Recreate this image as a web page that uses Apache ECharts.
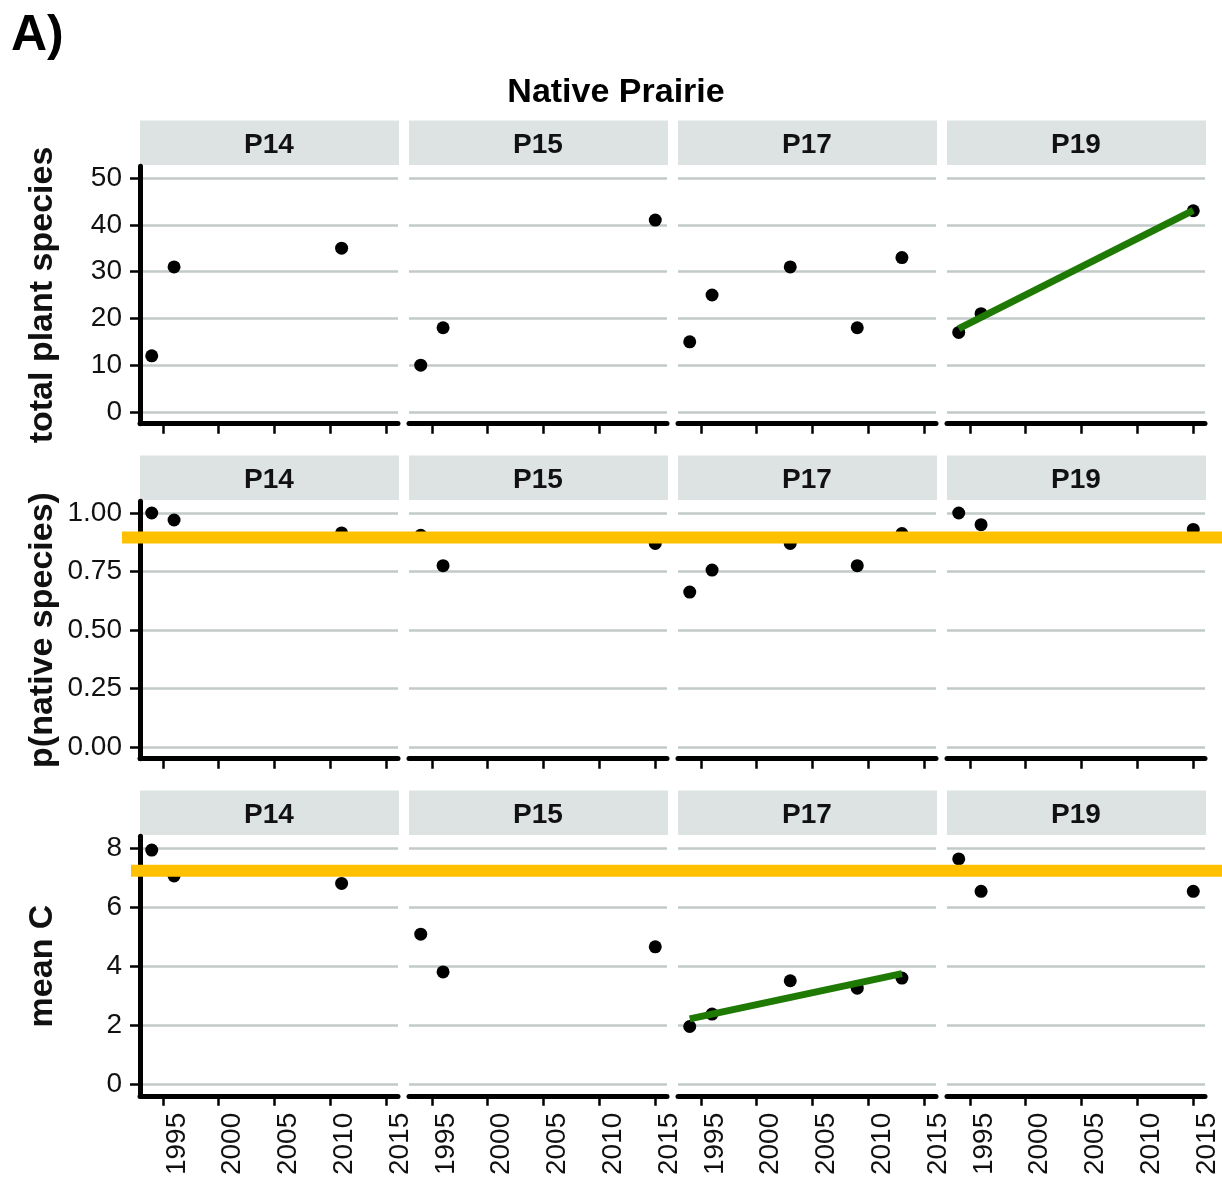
<!DOCTYPE html>
<html><head><meta charset="utf-8">
<script src="https://cdn.jsdelivr.net/npm/echarts@6/dist/echarts.min.js"></script>
<style>html,body{margin:0;padding:0;background:#fff}#c{width:1222px;height:1183px}</style>
</head><body><div id="c"></div>
<script>
// ---------- data ----------
const sites = ['P14', 'P15', 'P17', 'P19'];
const yearsP14 = [1994, 1996, 2011];
const yearsP15 = [1994, 1996, 2015];
const yearsP17 = [1994, 1996, 2003, 2009, 2013];
const yearsP19 = [1994, 1996, 2015];

const totalP14 = [12, 31, 35];
const totalP15 = [10, 18, 41];
const totalP17 = [15, 25, 31, 18, 33];
const totalP19 = [17, 21, 43];

const pNativeP14 = [1.00, 0.97, 0.915];
const pNativeP15 = [0.905, 0.775, 0.87];
const pNativeP17 = [0.662, 0.756, 0.87, 0.775, 0.912];
const pNativeP19 = [1.00, 0.95, 0.93];

const meanCP14 = [7.93, 7.05, 6.8];
const meanCP15 = [5.08, 3.8, 4.65];
const meanCP17 = [1.95, 2.37, 3.5, 3.25, 3.59];
const meanCP19 = [7.63, 6.53, 6.53];

const trendTotalP19 = [[1994, 17.8], [2015, 43.1]];
const trendMeanCP17 = [[1994, 2.21], [2013, 3.74]];
const pNativeRef = 0.895;
const meanCRef = 7.23;

const yearTicks = [1995, 2000, 2005, 2010, 2015];
const totalTicks = [0, 10, 20, 30, 40, 50];
const pNativeTicks = [0, 0.25, 0.5, 0.75, 1];
const meanCTicks = [0, 2, 4, 6, 8];

// ---------- layout ----------
const FONT = "'Liberation Sans', Arial, Helvetica, sans-serif";
const colLeft = [140, 409, 678, 947];
const panelW = 258;
const years = [yearsP14, yearsP15, yearsP17, yearsP19];
const rows = [
  {title: 'total plant species', vals: [totalP14, totalP15, totalP17, totalP19], ticks: totalTicks,
   min: -2.5, max: 52.5, top: 166.3, height: 257.4, fmt: v => String(v)},
  {title: 'p(native species)', vals: [pNativeP14, pNativeP15, pNativeP17, pNativeP19], ticks: pNativeTicks,
   min: -0.05, max: 1.05, top: 501.3, height: 257.4, fmt: v => v.toFixed(2)},
  {title: 'mean C', vals: [meanCP14, meanCP15, meanCP17, meanCP19], ticks: meanCTicks,
   min: -0.4, max: 8.4, top: 836.2, height: 259.6, fmt: v => String(v)}
];
const stripTop = [120.5, 455.5, 790.5];

const grid = [], xAxis = [], yAxis = [], series = [], graphic = [];

rows.forEach((row, r) => {
  sites.forEach((site, c) => {
    const g = r * 4 + c;
    grid.push({left: colLeft[c], top: row.top, width: panelW, height: row.height, outerBoundsMode: 'none'});
    xAxis.push({
      type: 'value', gridIndex: g, min: 1992.95, max: 2016.05,
      axisLine: {show: true, onZero: false, lineStyle: {color: '#000', width: 5}},
      axisTick: {show: true, length: 10, customValues: yearTicks, lineStyle: {color: '#000', width: 2.5}},
      axisLabel: {show: r === 2, customValues: yearTicks, rotate: 90, verticalAlign: 'top', margin: 17,
                  fontSize: 28, color: '#111', fontFamily: FONT, formatter: v => String(v)},
      splitLine: {show: false}
    });
    yAxis.push({
      type: 'value', gridIndex: g, min: row.min, max: row.max,
      name: c === 0 ? row.title : '', nameLocation: 'middle', nameRotate: 90, nameGap: 80,
      nameMoveOverlap: false,
      nameTextStyle: {fontSize: 34, fontWeight: 'bold', color: '#111', fontFamily: FONT},
      axisLine: {show: c === 0, onZero: false, lineStyle: {color: '#000', width: 5}},
      axisTick: {show: c === 0, length: 10, customValues: row.ticks, lineStyle: {color: '#000', width: 2.5}},
      axisLabel: {show: c === 0, customValues: row.ticks, margin: 18, fontSize: 28, color: '#111',
                  fontFamily: FONT, formatter: row.fmt},
      splitLine: {show: true, lineStyle: {color: '#C2CACA', width: 2.5}}
    });
    series.push({
      type: 'scatter', xAxisIndex: g, yAxisIndex: g, symbolSize: 13, z: 2,
      itemStyle: {color: '#000', opacity: 1},
      data: years[c].map((y, i) => [y, row.vals[c][i]])
    });
    graphic.push({type: 'rect', shape: {x: colLeft[c], y: stripTop[r], width: panelW + 1, height: 44.5},
                  style: {fill: '#DDE3E3'}});
    graphic.push({type: 'text', style: {text: site, x: colLeft[c] + panelW / 2, y: stripTop[r] + 24.5,
                  align: 'center', verticalAlign: 'middle', fill: '#111', font: 'bold 28px ' + FONT}});
  });
});

// trend lines
series.push({type: 'line', xAxisIndex: 3, yAxisIndex: 3, data: trendTotalP19, symbol: 'none', z: 4,
             lineStyle: {color: '#1F7A04', width: 7}});
series.push({type: 'line', xAxisIndex: 10, yAxisIndex: 10, data: trendMeanCP17, symbol: 'none', z: 4,
             lineStyle: {color: '#1F7A04', width: 7}});

// overlay grids for the orange reference lines (they span past the panels)
const overlays = [{row: 1, left: 122, ref: pNativeRef}, {row: 2, left: 131, ref: meanCRef}];
overlays.forEach(o => {
  const g = grid.length;
  const row = rows[o.row];
  grid.push({left: o.left, right: 0, top: row.top, height: row.height, outerBoundsMode: 'none'});
  xAxis.push({type: 'value', gridIndex: g, min: 0, max: 1, show: false});
  yAxis.push({type: 'value', gridIndex: g, min: row.min, max: row.max, show: false});
  series.push({type: 'line', xAxisIndex: g, yAxisIndex: g, symbol: 'none', z: 10,
               data: [[0, o.ref], [1, o.ref]], lineStyle: {color: '#FFC000', width: 12}});
});

graphic.push({type: 'text', style: {text: 'A)', x: 11, y: 36, align: 'left', verticalAlign: 'middle',
              fill: '#000', font: 'bold 50px ' + FONT}});
graphic.push({type: 'text', style: {text: 'Native Prairie', x: 616, y: 93, align: 'center', verticalAlign: 'middle',
              fill: '#000', font: 'bold 34px ' + FONT}});

const chart = echarts.init(document.getElementById('c'), null, {renderer: 'canvas'});
chart.setOption({animation: false, backgroundColor: '#fff', grid, xAxis, yAxis, series, graphic});
</script></body></html>
